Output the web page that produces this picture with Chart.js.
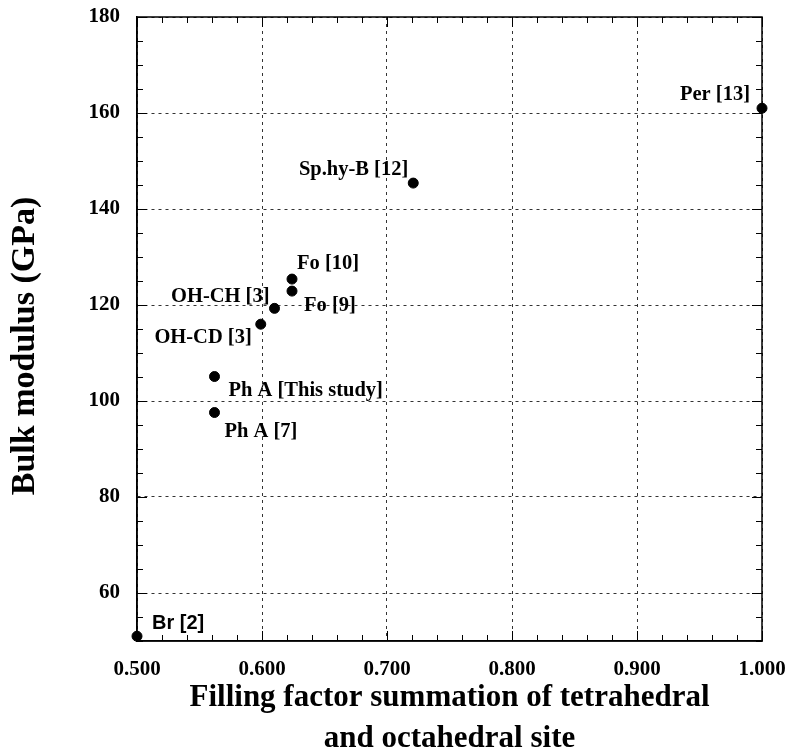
<!DOCTYPE html>
<html>
<head>
<meta charset="utf-8">
<script src="https://cdn.jsdelivr.net/npm/chart.js@4.4.0/dist/chart.umd.min.js"></script>
<style>
  html, body { margin: 0; padding: 0; background: #fff; }
</style>
</head>
<body>
<canvas id="chart" width="788" height="751"></canvas>
<script>
// data
const fillFactor = [0.500, 0.562, 0.562, 0.599, 0.610, 0.624, 0.624, 0.721, 1.000];
const bulkModulus = [51.0, 105.1, 97.6, 116.0, 119.3, 125.4, 122.9, 145.4, 161.0];
const pointLabels = ['Br [2]', 'Ph A [This study]', 'Ph A [7]', 'OH-CD [3]', 'OH-CH [3]',
  'Fo [10]', 'Fo [9]', 'Sp.hy-B [12]', 'Per [13]'];
const xTicks = [0.5, 0.6, 0.7, 0.8, 0.9, 1.0];
const yTicks = [60, 80, 100, 120, 140, 160, 180];
const xTitle = ['Filling factor summation of tetrahedral', 'and octahedral site'];
const yTitle = 'Bulk modulus (GPa)';

const SERIF = '"Liberation Serif", "Times New Roman", serif';
const SANS = '"Liberation Sans", Arial, sans-serif';

// label offsets from each point: [dx, dy, align, font]
const labelPos = [
  [15, -13, 'left', SANS], [14, 14, 'left', SERIF], [10, 19, 'left', SERIF],
  [-9, 14, 'right', SERIF], [-5, -12, 'right', SERIF], [5, -15, 'left', SERIF],
  [12, 15, 'left', SERIF], [-5, -13, 'right', SERIF], [-12, -13, 'right', SERIF]
];

const decorations = {
  id: 'decorations',
  afterDraw(chart) {
    const { ctx, chartArea: a, scales: { x, y } } = chart;
    ctx.save();
    // frame on top and right
    ctx.strokeStyle = '#000';
    ctx.lineWidth = 1.5;
    ctx.strokeRect(a.left, a.top, a.right - a.left, a.bottom - a.top);

    // inward ticks on all four sides
    ctx.lineWidth = 1;
    ctx.beginPath();
    for (let i = 0; i <= 25; i++) {
      const v = 0.5 + i * 0.02;
      const px = Math.round(x.getPixelForValue(v)) + 0.5;
      const len = (i % 5 === 0) ? 10 : 6;
      ctx.moveTo(px, a.bottom); ctx.lineTo(px, a.bottom - len);
      ctx.moveTo(px, a.top); ctx.lineTo(px, a.top + len);
    }
    for (let v = 50; v <= 180; v += 5) {
      const py = Math.round(y.getPixelForValue(v)) + 0.5;
      const len = (v % 20 === 0) ? 10 : 6;
      ctx.moveTo(a.left, py); ctx.lineTo(a.left + len, py);
      ctx.moveTo(a.right, py); ctx.lineTo(a.right - len, py);
    }
    ctx.stroke();

    // point labels
    ctx.fillStyle = '#000';
    ctx.textBaseline = 'middle';
    pointLabels.forEach((txt, i) => {
      const [dx, dy, align, fam] = labelPos[i];
      ctx.font = (fam === SANS ? 'bold 20px ' : 'bold 20.5px ') + fam;
      ctx.textAlign = align;
      ctx.fillText(txt, x.getPixelForValue(fillFactor[i]) + dx, y.getPixelForValue(bulkModulus[i]) + dy);
    });

    // y axis title
    ctx.translate(25, 346);
    ctx.rotate(-Math.PI / 2);
    ctx.textAlign = 'center';
    ctx.font = 'bold 34px ' + SERIF;
    ctx.fillText(yTitle, 0, 0);
    ctx.restore();
  }
};

const tickFont = { family: SERIF, weight: 'bold', size: 21 };
const gridOpts = { color: '#333', lineWidth: 1, drawTicks: false };

new Chart(document.getElementById('chart'), {
  type: 'scatter',
  data: {
    datasets: [{
      data: fillFactor.map((v, i) => ({ x: v, y: bulkModulus[i] })),
      pointRadius: 5,
      pointHoverRadius: 5,
      backgroundColor: '#000',
      borderColor: '#000',
      clip: false
    }]
  },
  options: {
    responsive: false,
    animation: false,
    layout: { padding: { top: 17, right: 26, left: 0, bottom: 0 } },
    plugins: { legend: { display: false }, tooltip: { enabled: false } },
    scales: {
      x: {
        type: 'linear', min: 0.5, max: 1.0,
        afterBuildTicks: s => { s.ticks = xTicks.map(v => ({ value: v })); },
        afterFit: s => { s.height = 110; s.paddingLeft = 0; s.paddingRight = 0; },
        ticks: { font: tickFont, color: '#000', padding: 16, maxRotation: 0,
          callback: v => Number(v).toFixed(3) },
        grid: gridOpts,
        border: { display: true, color: '#000', width: 1.5, dash: [3, 4] },
        title: { display: true, text: xTitle, color: '#000',
          font: { family: SERIF, weight: 'bold', size: 31, lineHeight: 1.32 },
          padding: { top: 0, bottom: -8 } }
      },
      y: {
        type: 'linear', min: 50, max: 180,
        afterBuildTicks: s => { s.ticks = yTicks.map(v => ({ value: v })); },
        afterFit: s => { s.width = 137; s.paddingTop = 0; s.paddingBottom = 0; },
        ticks: { font: tickFont, color: '#000', padding: 17 },
        grid: gridOpts,
        border: { display: true, color: '#000', width: 1.5, dash: [3, 4] }
      }
    }
  },
  plugins: [decorations]
});
</script>
</body>
</html>
